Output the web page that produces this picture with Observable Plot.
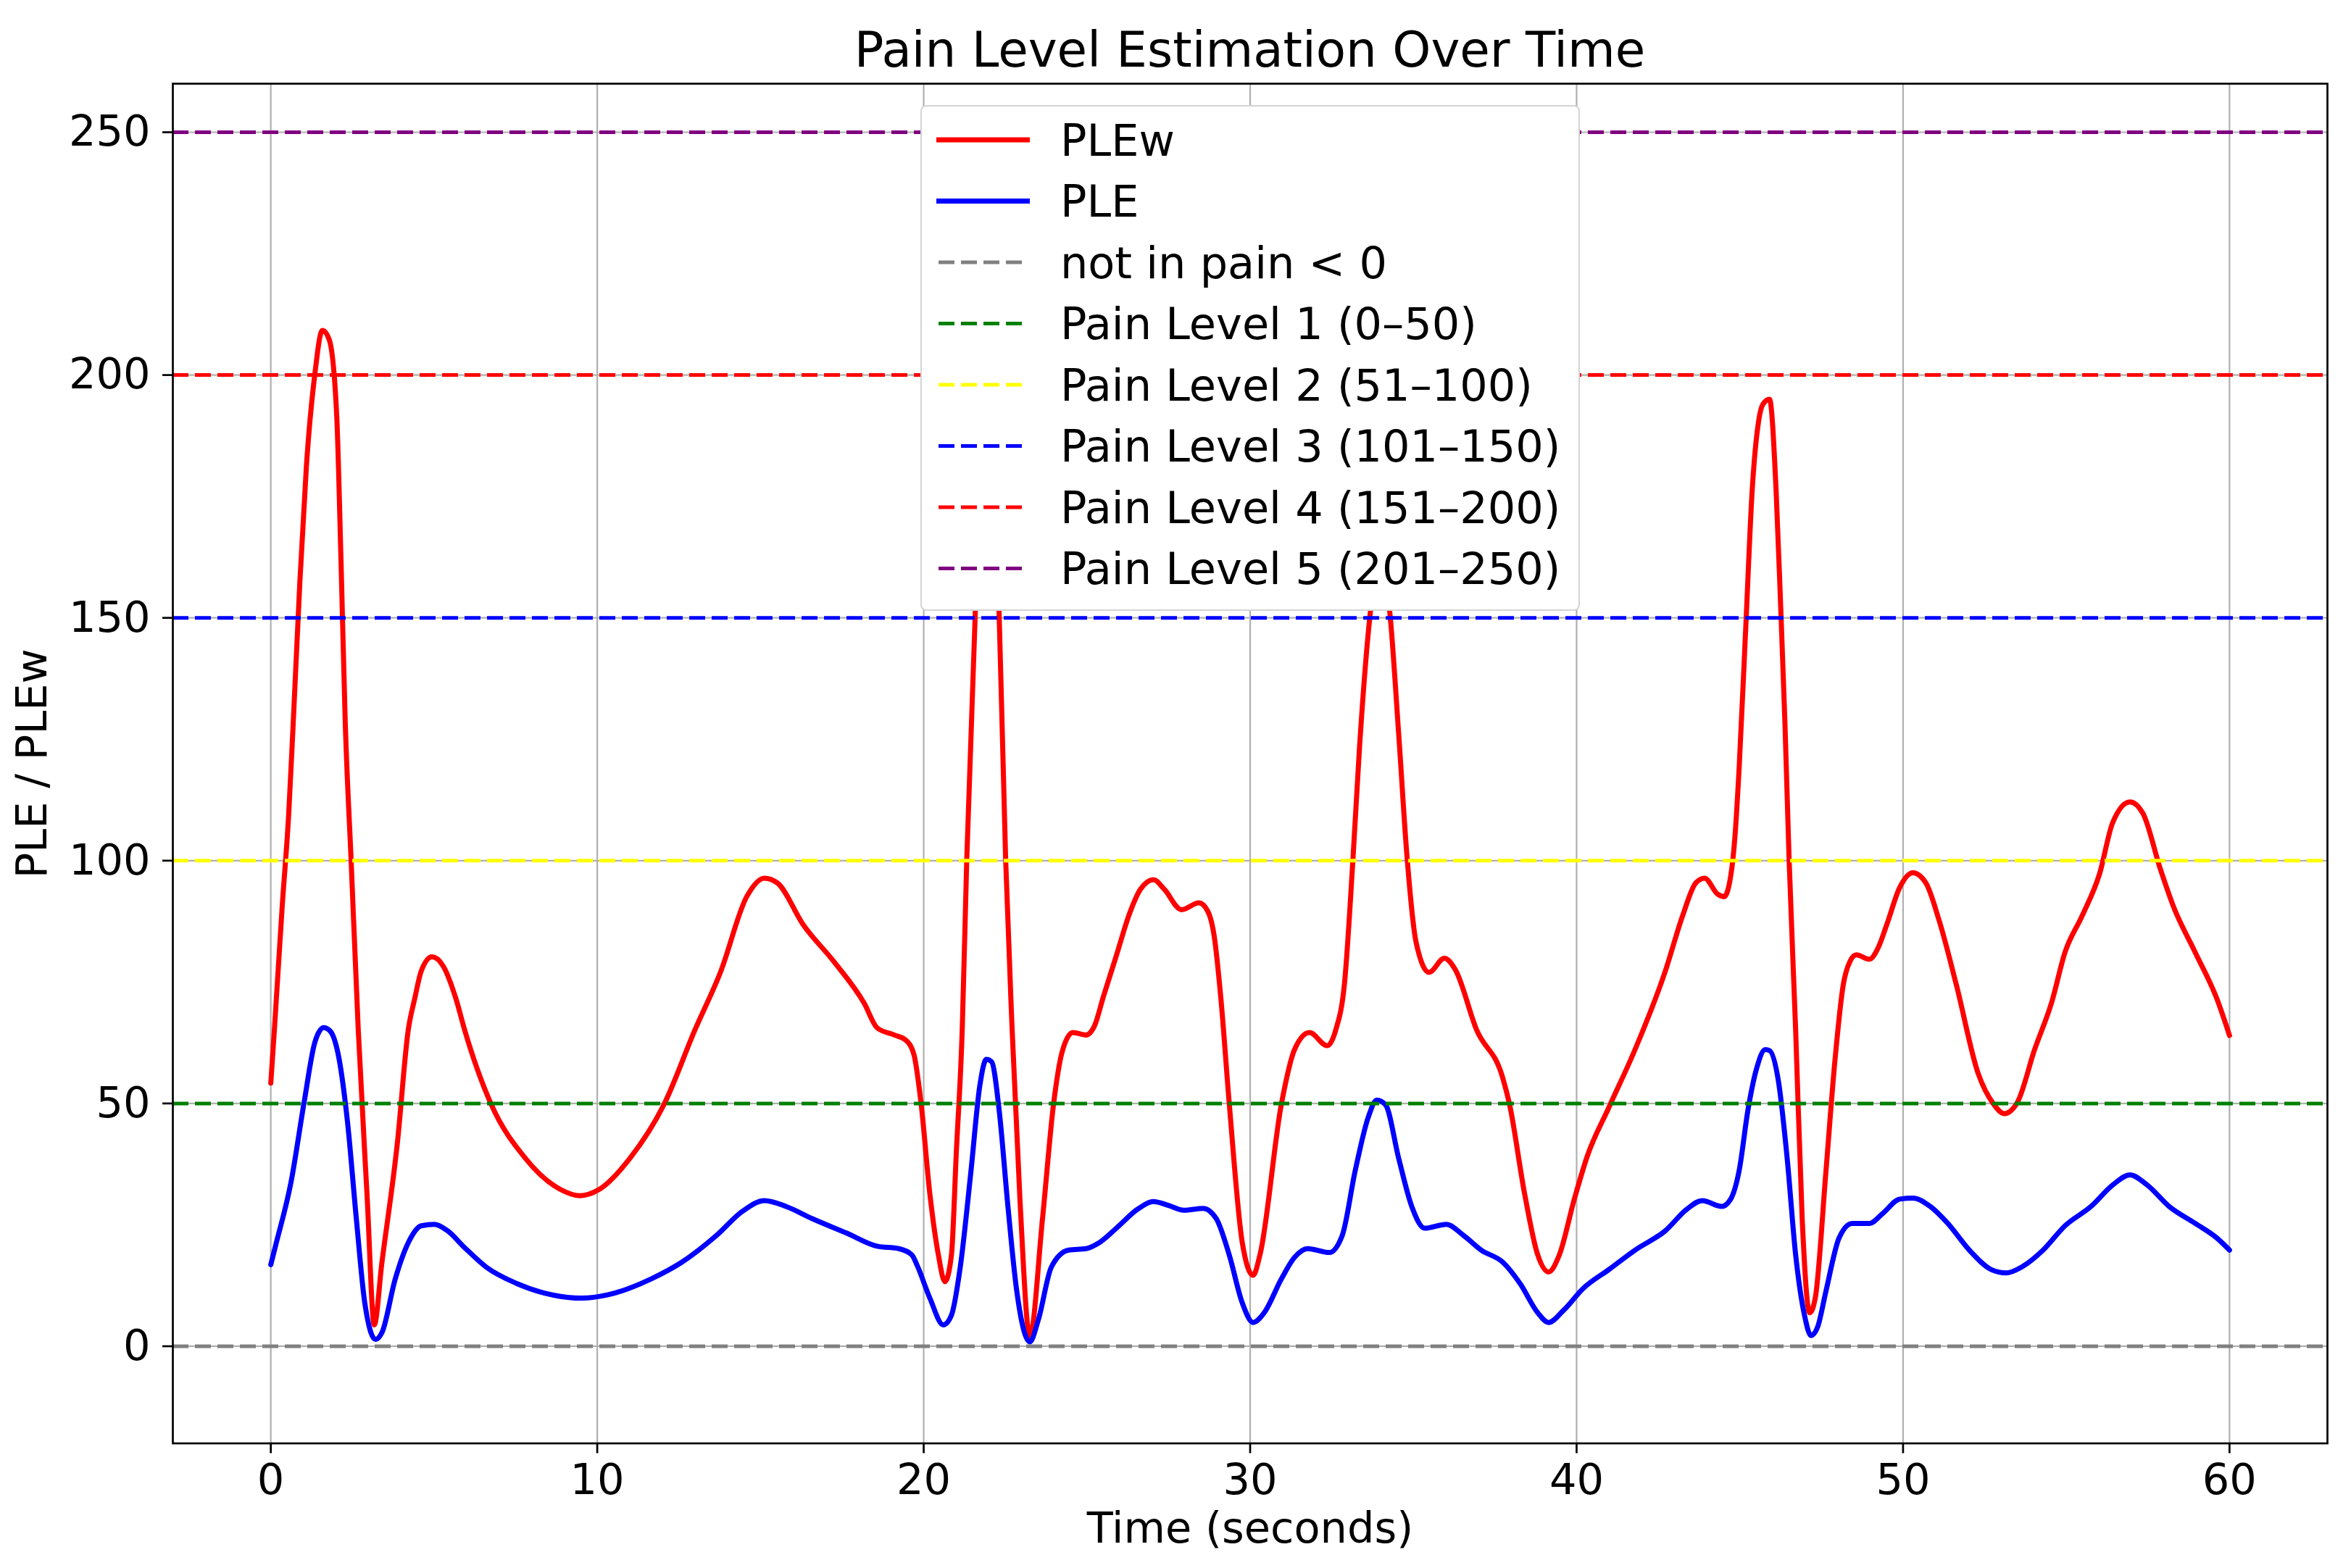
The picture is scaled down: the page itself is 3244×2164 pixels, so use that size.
<!DOCTYPE html>
<html>
<head>
<meta charset="utf-8">
<script src="https://cdn.jsdelivr.net/npm/d3@7"></script>
<script src="https://cdn.jsdelivr.net/npm/@observablehq/plot@0.6"></script>
<style>
  html, body { margin: 0; padding: 0; background: #fff; }
  #wrap { position: relative; width: 3244px; height: 2164px; font-family: "DejaVu Sans", sans-serif; color: #000; }
  #title { position: absolute; left: 238px; width: 2973px; top: 35px; text-align: center; font-size: 67.5px; line-height: 67px; white-space: nowrap; }
  #chart { position: absolute; left: 0; top: 104px; }
  #legend { position: absolute; left: 1270px; top: 145px; width: 910px; height: 698px; box-sizing: border-box;
            border: 2.5px solid #d4d4d4; border-radius: 8px; background: #fff; }
  #legend svg { position: absolute; left: -2.5px; top: -2.5px; overflow: visible; }
</style>
</head>
<body>
<div id="wrap">
  <div id="title">Pain Level Estimation Over Time</div>
  <div id="chart"></div>
  <div id="legend"></div>
</div>
<script>
// ---- Data ----
const pleTime = [
  0, 0.15, 0.62, 1.02, 1.35, 1.62, 1.82, 2.08, 2.35, 2.62,
  2.88, 3.21, 3.41, 3.81, 4.21, 4.61, 5.01, 5.41, 5.94, 6.6,
  7.54, 8.6, 9.53, 10.33, 11.66, 12.59, 13.65, 14.45, 15.12, 15.78,
  16.58, 17.64, 18.57, 19.24, 19.64, 19.79, 20.19, 20.6, 20.85, 21.12,
  21.45, 21.72, 21.92, 22.08, 22.31, 22.58, 22.85, 23.25, 23.51, 23.91,
  24.44, 24.97, 25.37, 25.9, 26.57, 27.03, 27.5, 27.97, 28.56, 28.96,
  29.36, 29.76, 30.09, 30.43, 30.96, 31.36, 31.76, 32.42, 32.82, 33.22,
  33.62, 33.88, 34.15, 34.55, 34.95, 35.35, 36.01, 36.54, 37.08, 37.74,
  38.27, 38.81, 39.14, 39.6, 40.2, 40.99, 41.79, 42.72, 43.39, 43.85,
  44.45, 44.72, 44.98, 45.25, 45.51, 45.78, 45.91, 46.18, 46.45, 46.71,
  46.98, 47.18, 47.38, 47.64, 48.04, 48.44, 48.97, 49.37, 49.9, 50.3,
  50.83, 51.37, 52.03, 52.7, 53.16, 53.63, 54.29, 54.96, 55.76, 56.42,
  56.95, 57.48, 58.15, 58.95, 59.61, 60
];
const pleValues = [
  16.8, 20.8, 33.8, 50.2, 62.6, 65.6, 64.9, 59.6, 46.2, 26.3,
  8.9, 1.4, 2.9, 13.8, 21.3, 24.8, 25.1, 23.8, 20.3, 16.3,
  12.9, 10.6, 9.9, 10.6, 13.9, 17.3, 22.8, 27.8, 30.0, 28.8,
  26.3, 23.3, 20.6, 20.1, 18.8, 16.8, 9.9, 4.4, 6.4, 16.3,
  36.2, 53.7, 59.1, 58.6, 48.7, 28.8, 11.4, 0.9, 5.4, 16.3,
  19.8, 20.1, 21.3, 24.3, 28.3, 29.8, 29.0, 28.0, 28.4, 26.3,
  18.8, 8.9, 4.9, 6.9, 13.9, 18.3, 20.1, 19.3, 22.8, 36.2,
  47.2, 50.7, 49.7, 38.7, 28.8, 24.3, 25.1, 22.8, 19.8, 17.3,
  12.9, 6.9, 4.9, 7.4, 11.9, 15.8, 19.8, 23.8, 28.3, 30.0,
  28.8, 30.3, 36.2, 48.7, 57.1, 61.1, 60.9, 54.7, 38.7, 18.8,
  6.4, 2.2, 3.9, 11.4, 22.3, 25.3, 25.3, 27.3, 30.3, 30.5,
  28.8, 25.3, 19.8, 15.8, 15.1, 16.3, 19.8, 24.8, 28.8, 33.2,
  35.3, 33.2, 28.8, 25.3, 22.3, 19.8
];
const plewTime = [
  0, 0.11, 0.35, 0.55, 0.69, 0.89, 1.09, 1.35, 1.58, 1.79,
  2.02, 2.15, 2.28, 2.46, 2.68, 2.95, 3.17, 3.4, 3.88, 4.21,
  4.41, 4.61, 4.94, 5.28, 5.67, 5.94, 6.74, 7.8, 8.87, 9.46,
  10.06, 11.0, 12.06, 12.99, 13.79, 14.58, 15.12, 15.52, 16.31, 17.25,
  18.18, 18.57, 19.1, 19.44, 19.7, 19.92, 20.19, 20.45, 20.65, 20.85,
  21.0, 21.18, 21.32, 21.58, 21.95, 22.31, 22.51, 22.71, 22.95, 23.25,
  23.64, 23.98, 24.24, 24.57, 24.97, 25.24, 25.5, 25.9, 26.3, 26.64,
  27.04, 27.37, 27.9, 28.43, 28.7, 28.9, 29.1, 29.36, 29.76, 30.09,
  30.3, 30.96, 31.36, 31.82, 32.36, 32.62, 32.89, 33.15, 33.35, 33.68,
  33.95, 34.28, 34.55, 34.81, 35.08, 35.48, 35.95, 36.28, 36.94, 37.74,
  37.94, 38.41, 38.81, 39.14, 39.47, 39.93, 40.33, 40.99, 41.79, 42.72,
  43.25, 43.65, 43.92, 44.32, 44.52, 44.72, 44.85, 44.98, 45.18, 45.38,
  45.58, 45.71, 45.91, 46.11, 46.25, 46.38, 46.51, 46.71, 46.91, 47.14,
  47.31, 47.64, 47.91, 48.17, 48.37, 48.57, 48.97, 49.24, 49.5, 49.9,
  50.3, 50.7, 51.1, 51.63, 52.3, 52.76, 53.1, 53.5, 54.03, 54.56,
  54.96, 55.49, 56.02, 56.42, 56.95, 57.35, 57.88, 58.28, 58.95, 59.61,
  60
];
const plewValues = [
  54.2, 65.1, 90.6, 109.7, 128.7, 157.3, 181.1, 200.2, 209.2, 207.3,
  191.6, 162.1, 128.7, 100.2, 65.1, 31.0, 4.4, 17.0, 42.0, 65.1,
  71.6, 77.3, 80.2, 78.3, 71.6, 65.1, 50.0, 38.7, 32.3, 31.0,
  32.3, 38.7, 50.0, 65.1, 77.3, 92.6, 96.4, 95.4, 86.8, 79.2,
  70.6, 65.6, 64.1, 63.1, 60.1, 50.0, 31.3, 18.8, 13.3, 18.8,
  40.0, 65.1, 100.4, 151.0, 190.0, 151.0, 100.4, 65.1, 30.0, 2.0,
  26.3, 50.0, 60.6, 64.6, 64.1, 66.1, 71.9, 80.4, 89.0, 94.1,
  96.1, 94.1, 89.9, 91.3, 89.6, 84.4, 71.9, 50.0, 21.3, 14.6,
  18.8, 50.0, 61.1, 64.6, 61.9, 65.1, 74.7, 100.4, 123.3, 151.0,
  163.0, 151.0, 126.1, 100.4, 83.3, 77.0, 79.9, 77.6, 65.1, 55.2,
  50.0, 31.3, 18.8, 15.3, 18.8, 30.3, 39.2, 49.2, 61.1, 77.3,
  88.7, 95.4, 96.4, 93.1, 92.6, 96.8, 104.9, 119.2, 147.8, 176.4,
  190.7, 194.0, 195.0, 176.4, 152.6, 128.7, 100.2, 65.1, 26.3, 6.9,
  9.9, 36.2, 58.6, 74.5, 79.2, 80.6, 79.7, 82.1, 86.8, 94.5,
  97.5, 95.4, 87.8, 74.5, 56.2, 50.0, 47.9, 50.2, 61.1, 71.0,
  81.1, 88.7, 97.3, 107.8, 112.1, 109.7, 98.3, 90.6, 81.1, 71.6,
  64.0
];
const seriesNames = ["PLEw", "PLE"];
const seriesColors = ["red", "blue"];
const levelValues = [0, 50, 100, 150, 200, 250];
const levelLabels = [
  "not in pain < 0",
  "Pain Level 1 (0–50)",
  "Pain Level 2 (51–100)",
  "Pain Level 3 (101–150)",
  "Pain Level 4 (151–200)",
  "Pain Level 5 (201–250)"
];
const levelColors = ["gray", "green", "yellow", "blue", "red", "purple"];
const xTicks = [0, 10, 20, 30, 40, 50, 60];
const yTicks = [0, 50, 100, 150, 200, 250];
const titleText = "Pain Level Estimation Over Time";
const xLabel = "Time (seconds)";
const yLabel = "PLE / PLEw";

// ---- Build ----
document.getElementById("title").textContent = titleText;
const pleRows = pleTime.map((t, i) => ({t, v: pleValues[i]}));
const plewRows = plewTime.map((t, i) => ({t, v: plewValues[i]}));
const FONT = 59;
const dash = "22,9";

const chart = Plot.plot({
  width: 3244,
  height: 2060,
  marginTop: 11,
  marginBottom: 172.5,
  marginLeft: 238,
  marginRight: 33,
  x: {domain: [-3, 63]},
  y: {domain: [-20, 260]},
  style: {fontFamily: '"DejaVu Sans", sans-serif', fontSize: FONT + "px", color: "black", background: "white"},
  marks: [
    Plot.gridX({ticks: xTicks, stroke: "#b0b0b0", strokeOpacity: 1, strokeWidth: 2.2}),
    Plot.gridY({ticks: yTicks, stroke: "#b0b0b0", strokeOpacity: 1, strokeWidth: 2.2}),
    Plot.line(plewRows, {x: "t", y: "v", stroke: seriesColors[0], strokeWidth: 7, curve: "monotone-x"}),
    Plot.line(pleRows, {x: "t", y: "v", stroke: seriesColors[1], strokeWidth: 7, curve: "monotone-x"}),
    ...levelValues.map((v, i) => Plot.ruleY([v], {stroke: levelColors[i], strokeWidth: 5, strokeDasharray: dash})),
    Plot.axisX({ticks: xTicks, tickSize: 14, tickPadding: 14, strokeWidth: 2.7, fontSize: FONT, label: null, tickFormat: d => String(d)}),
    Plot.axisY({ticks: yTicks, tickSize: 14, tickPadding: 17, strokeWidth: 2.7, fontSize: FONT, label: null, tickFormat: d => String(d)}),
    Plot.text([xLabel], {frameAnchor: "bottom", dy: 118, fontSize: FONT, textAnchor: "middle", lineAnchor: "middle", fill: "black"}),
    Plot.text([yLabel], {frameAnchor: "left", dx: -193, rotate: -90, fontSize: FONT, textAnchor: "middle", lineAnchor: "middle", fill: "black"}),
    Plot.frame({stroke: "black", strokeWidth: 2.7})
  ]
});
document.getElementById("chart").appendChild(chart);

// ---- Legend (upper center, drawn over the axes) ----
const legendItems = [
  ...seriesNames.map((n, i) => ({label: n, color: seriesColors[i], dashed: false})),
  ...levelLabels.map((l, i) => ({label: l, color: levelColors[i], dashed: true}))
];
const lsvg = d3.select("#legend").append("svg").attr("width", 910).attr("height", 698);
legendItems.forEach((item, i) => {
  const cy = 48 + i * 84.5;
  lsvg.append("line")
    .attr("x1", item.dashed ? 25 : 22).attr("x2", item.dashed ? 140 : 151)
    .attr("y1", cy).attr("y2", cy)
    .attr("stroke", item.color)
    .attr("stroke-width", item.dashed ? 5 : 7)
    .attr("stroke-dasharray", item.dashed ? dash : null);
  lsvg.append("text")
    .attr("x", 193).attr("y", cy + 21.5)
    .attr("font-family", '"DejaVu Sans", sans-serif')
    .attr("font-size", 60.5)
    .attr("fill", "black")
    .text(item.label);
});
</script>
</body>
</html>
